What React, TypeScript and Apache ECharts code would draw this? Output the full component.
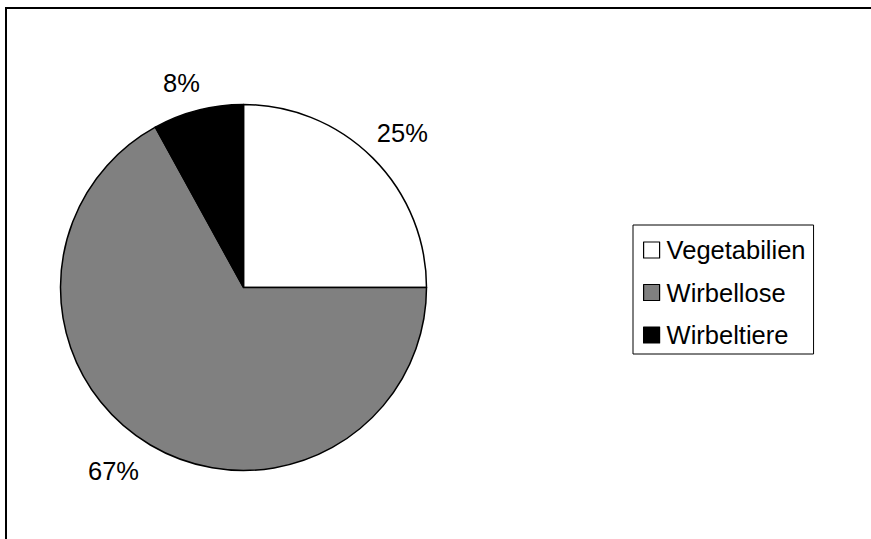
import React, { useEffect, useRef } from "react";
import * as echarts from "echarts";

const categories = ["Vegetabilien", "Wirbellose", "Wirbeltiere"];
const values = [25, 67, 8];
const colors = ["#ffffff", "#808080", "#000000"];
// label placement tweaks (outside labels without guide lines)
const labelLineLengths = [36, 30.7, 28.6];
const labelDistances = [-21.5, -4.3, -9];

const FONT = "'Liberation Sans', Arial, Helvetica, sans-serif";

export default function App() {
  const ref = useRef<HTMLDivElement>(null);
  useEffect(() => {
    if (!ref.current) return;
    const chart = echarts.init(ref.current, null, { renderer: "svg" });
    chart.setOption({
      animation: false,
      backgroundColor: "#ffffff",
      graphic: [
        {
          type: "line",
          shape: { x1: 6, y1: 7, x2: 6, y2: 560 },
          style: { stroke: "#000", lineWidth: 2 },
          silent: true,
        },
        {
          type: "line",
          shape: { x1: 5, y1: 8, x2: 871, y2: 8 },
          style: { stroke: "#000", lineWidth: 2 },
          silent: true,
        },
      ],
      legend: {
        orient: "vertical",
        left: 633,
        top: 225,
        padding: [12, 8, 6, 10],
        borderColor: "#000",
        borderWidth: 1,
        backgroundColor: "#fff",
        itemWidth: 16,
        itemHeight: 16,
        itemGap: 16.5,
        icon: "rect",
        itemStyle: { borderColor: "#000", borderWidth: 1.2 },
        textStyle: {
          fontFamily: FONT,
          fontSize: 25.5,
          lineHeight: 26,
          color: "#000",
          padding: [0, 0, 0, 2],
        },
        data: categories,
      },
      series: [
        {
          type: "pie",
          center: [243.5, 287.5],
          radius: 183,
          startAngle: 90,
          clockwise: true,
          avoidLabelOverlap: false,
          itemStyle: { borderColor: "#000", borderWidth: 1.5 },
          emphasis: { disabled: true },
          label: {
            show: true,
            position: "outside",
            formatter: "{c}%",
            fontFamily: FONT,
            fontSize: 25.5,
            color: "#000",
          },
          labelLine: { show: false, length2: 0 },
          data: categories.map((name, i) => ({
            name,
            value: values[i],
            itemStyle: { color: colors[i] },
            label: { distanceToLabelLine: labelDistances[i] },
            labelLine: { show: false, length: labelLineLengths[i], length2: 0 },
          })),
        },
      ],
    });
    return () => chart.dispose();
  }, []);
  return (
    <div
      ref={ref}
      style={{ position: "absolute", left: 0, top: 0, width: 871, height: 539 }}
    />
  );
}
